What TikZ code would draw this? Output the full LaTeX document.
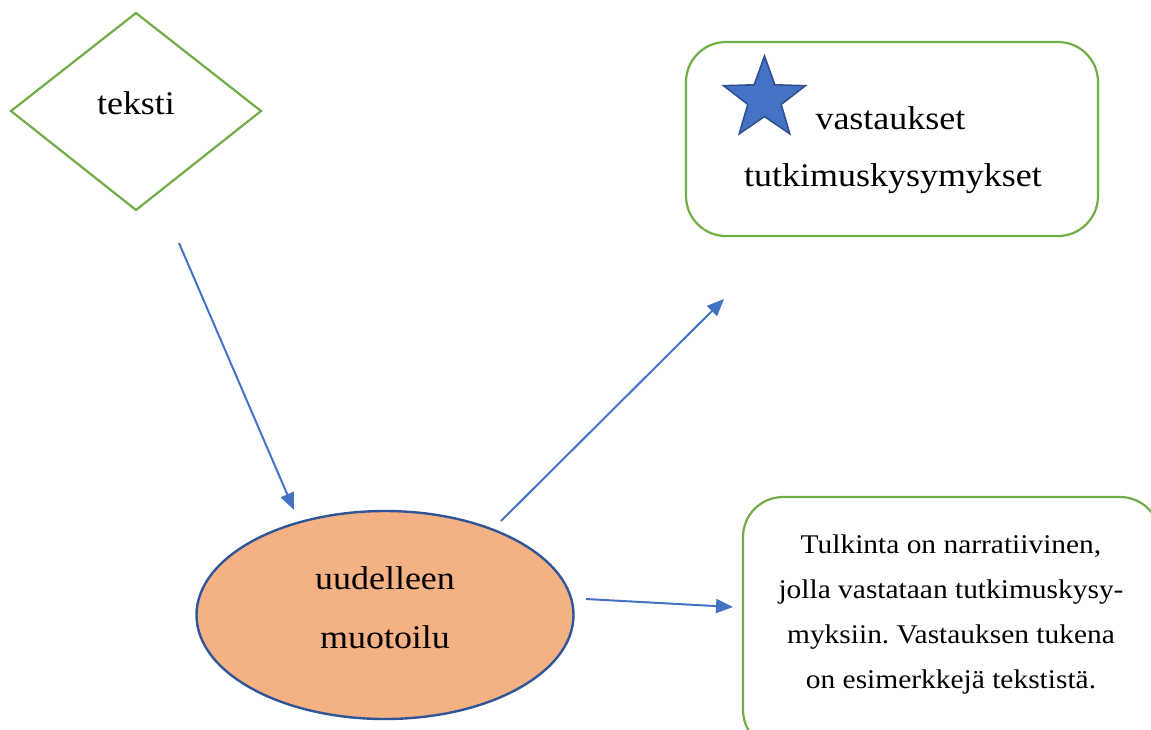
\documentclass[tikz,border=0pt]{standalone}
\usepackage{fontspec}
\setmainfont{Liberation Serif}[FakeStretch=1.09]
\usetikzlibrary{shapes.geometric,arrows.meta}
\definecolor{boxgreen}{HTML}{70AD47}
\definecolor{arrowblue}{HTML}{4472C4}
\definecolor{darkblue}{HTML}{2F5597}
\definecolor{starline}{HTML}{2F528F}
\definecolor{peach}{HTML}{F4B183}
\frenchspacing
\tikzset{
  bigtext/.style={font=\fontsize{33}{33}\selectfont, text=black},
  smalltext/.style={font=\fontsize{27}{45}\selectfont, text=black},
  conn/.style={draw=arrowblue, line width=2pt, -{Triangle[length=17pt,width=14pt]}},
  greenline/.style={draw=boxgreen, line width=2.2pt},
}
\begin{document}
\begin{tikzpicture}[x=1pt,y=-1pt]
\useasboundingbox (0,0) rectangle (1151,729);
% diamond
\draw[greenline] (136,13) -- (261,111) -- (136,210) -- (11,111) -- cycle;
\node[bigtext] (teksti) at (136,103) {teksti};
% top right box
\draw[greenline, rounded corners=40pt] (686,42) rectangle (1098,236);
\node[star, star points=5, star point ratio=2.45, minimum size=86pt, inner sep=0pt,
      fill=arrowblue, draw=starline, line width=1.6pt] (star) at (764.5,99) {};
\node[bigtext, anchor=west] (vast) at (812,118) {vastaukset};
\node[bigtext] (tutk) at (893,179) {tutkimuskysymykset};
% ellipse
\node[ellipse, minimum width=377pt, minimum height=208pt, fill=peach, draw=darkblue, line width=2.4pt] (ell) at (385,615) {};
\node[bigtext] (uud) at (385,578) {uudelleen};
\node[bigtext] (muo) at (385,637) {muotoilu};
% bottom right box
\draw[greenline, rounded corners=40pt] (743,497) rectangle (1160,750);
\node[smalltext, align=center] (tulk) at (951,614) {Tulkinta on narratiivinen,\\jolla vastataan tutkimuskysy-\\myksiin. Vastauksen tukena\\on esimerkkejä tekstistä.};
% connectors
\coordinate (a1s) at (179,243);
\coordinate (a1e) at (294,510);
\coordinate (a2s) at (501,521);
\coordinate (a2e) at (724,299);
\coordinate (a3s) at (586,599);
\coordinate (a3e) at (733,607);
\draw[conn] (a1s) -- (a1e);
\draw[conn] (a2s) -- (a2e);
\draw[conn] (a3s) -- (a3e);
\end{tikzpicture}
\end{document}
